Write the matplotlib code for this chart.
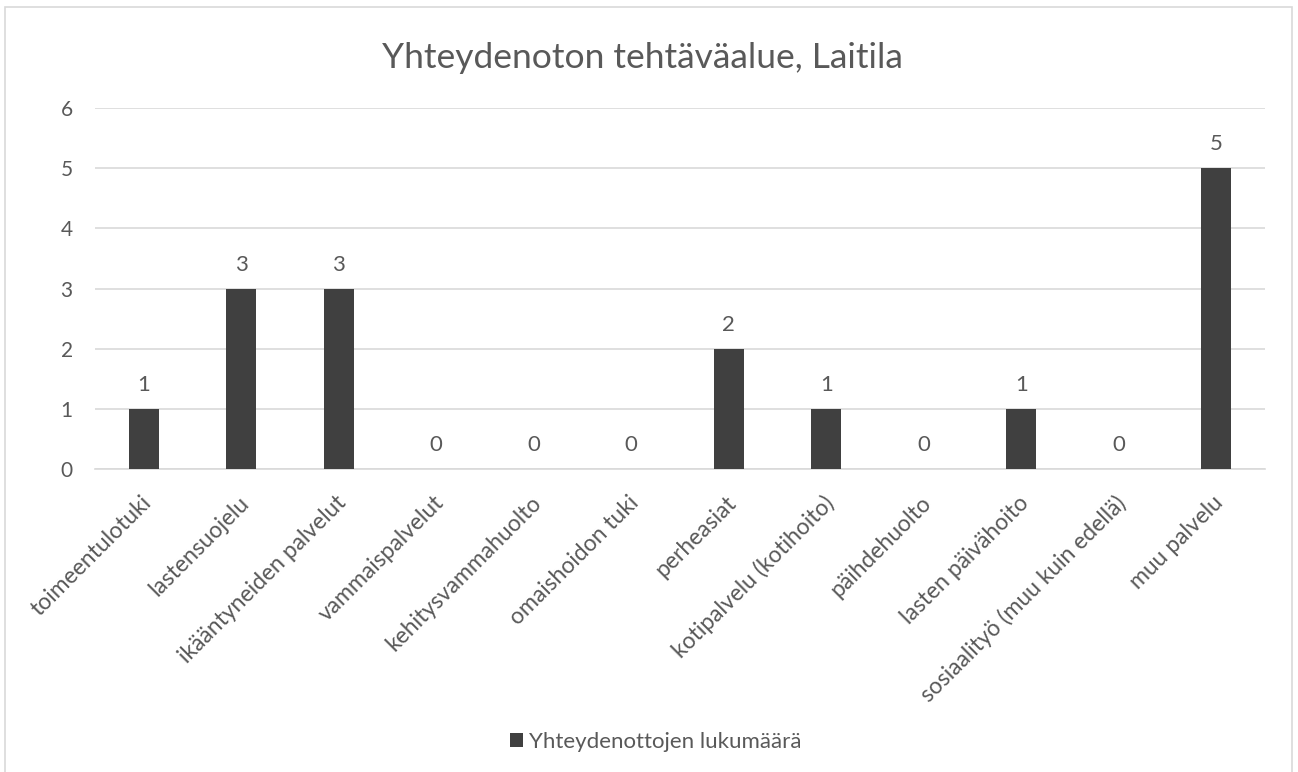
import matplotlib
matplotlib.use('Agg')
import matplotlib.pyplot as plt
import matplotlib.transforms as mtransforms
import numpy as np
from matplotlib.patches import Rectangle

categories = ['toimeentulotuki', 'lastensuojelu', 'ikääntyneiden palvelut',
              'vammaispalvelut', 'kehitysvammahuolto', 'omaishoidon tuki',
              'perheasiat', 'kotipalvelu (kotihoito)', 'päihdehuolto',
              'lasten päivähoito', 'sosiaalityö (muu kuin edellä)', 'muu palvelu']
counts = [1, 3, 3, 0, 0, 0, 2, 1, 0, 1, 0, 5]
yticks = [0, 1, 2, 3, 4, 5, 6]

text_col = '#595959'
bar_col = '#404040'
grid_col = '#D9D9D9'

plt.rcParams['font.family'] = ['Lato', 'DejaVu Sans']

W, H = 1298, 772
fig = plt.figure(figsize=(W / 100, H / 100), dpi=100)
ax = fig.add_axes([95 / W, 1 - 469 / H, 1170 / W, 361 / H])

# chart area border
fig.patches.append(Rectangle((5 / W, -0.05), 1287 / W, 1.05 - 7 / H,
                             transform=fig.transFigure, fill=False,
                             edgecolor=grid_col, linewidth=1.2))

x = np.arange(len(categories))
rects = ax.bar(x, counts, width=0.31, color=bar_col, zorder=3,
               label='Yhteydenottojen lukumäärä')

ax.set_xlim(-0.5, len(categories) - 0.5)
ax.set_ylim(0, 6)
ax.set_yticks(yticks)
ax.yaxis.grid(True, color=grid_col, linewidth=1.2, zorder=0)
for s in ['top', 'right', 'left']:
    ax.spines[s].set_visible(False)
ax.spines['bottom'].set_color(grid_col)
ax.spines['bottom'].set_linewidth(1.2)
ax.tick_params(axis='both', length=0, colors=text_col)
ax.tick_params(axis='y', pad=16, labelsize=15)
ax.set_xticks(x)
ax.set_xticklabels(categories, rotation=45, ha='right', va='center',
                   rotation_mode='anchor', fontsize=16.5)
ax.tick_params(axis='x', pad=19)

# nudge the rotated labels so their ends sit just right of the tick
shift = mtransforms.ScaledTranslation(4 / 100, -4 / 100, fig.dpi_scale_trans)
for lbl in ax.get_xticklabels():
    lbl.set_transform(lbl.get_transform() + shift)

for rect in rects:
    h = rect.get_height()
    ax.annotate('{}'.format(int(h)),
                xy=(rect.get_x() + rect.get_width() / 2, h),
                xytext=(0, 10), textcoords='offset points',
                ha='center', va='bottom', color=text_col, fontsize=16)

fig.text(0.495, 1 - 58 / H, 'Yhteydenoton tehtäväalue, Laitila',
         ha='center', va='center', fontsize=25.5, color=text_col)

fig.legend(loc='center', bbox_to_anchor=(0.505, 1 - 742 / H), frameon=False,
           fontsize=16, labelcolor=text_col, handlelength=0.6, handleheight=0.6,
           handletextpad=0.25)

fig.savefig('out.png', dpi=100)
